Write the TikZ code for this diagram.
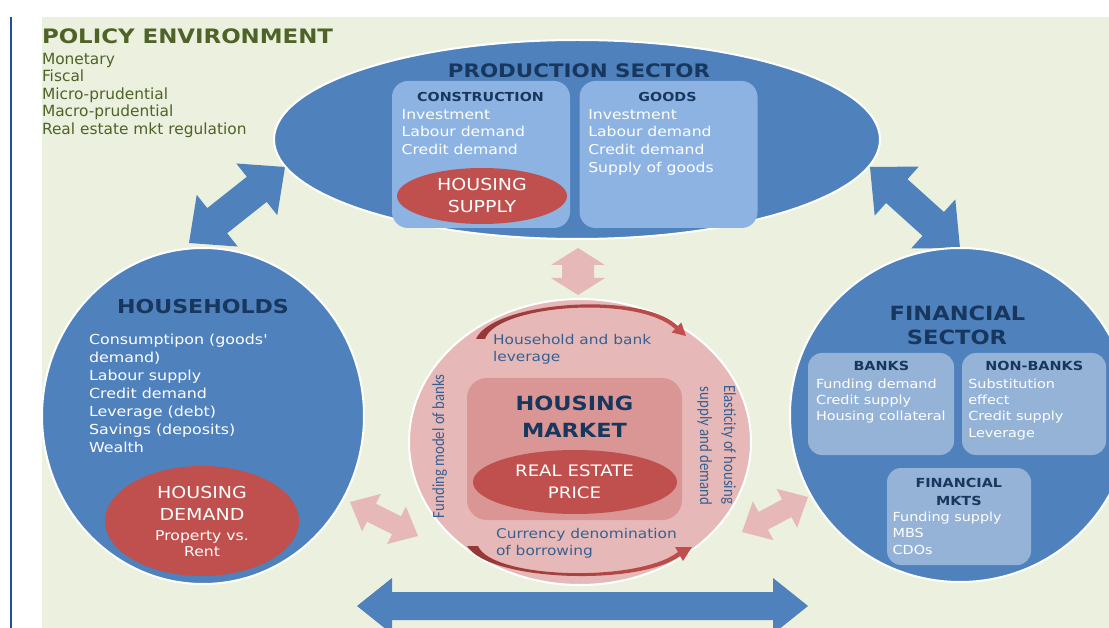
\documentclass[tikz,border=0pt]{standalone}
\usepackage{fontspec}
\setmainfont{DejaVu Sans}
\newfontfamily\bodyf{DejaVu Sans}[FakeStretch=1.15]
\newfontfamily\rotf{Carlito}[FakeStretch=0.87]
\usetikzlibrary{calc,shapes.geometric}
\definecolor{bggreen}{HTML}{EBF1DE}
\definecolor{olive}{HTML}{4F6228}
\definecolor{mblue}{HTML}{4F81BD}
\definecolor{pboxc}{HTML}{8DB3E2}
\definecolor{fboxc}{HTML}{95B3D7}
\definecolor{navy}{HTML}{17375E}
\definecolor{hred}{HTML}{C0504D}
\definecolor{pinkc}{HTML}{E6B9B8}
\definecolor{pinkd}{HTML}{D99694}
\definecolor{arcdark}{HTML}{953735}
\definecolor{tblue}{HTML}{376092}
\definecolor{lineblue}{HTML}{1F4E9E}
% double block arrow between two named coordinates
\newcommand\dblarrow[6]{%
  \coordinate (da1) at ($(#1)!#3!(#2)$);
  \coordinate (da2) at ($(#2)!#3!(#1)$);
  \fill[#6] (#1) -- ($(da1)!#4!90:(#2)$) -- ($(da1)!#5!90:(#2)$)
    -- ($(da2)!#5!-90:(#1)$) -- ($(da2)!#4!-90:(#1)$) -- (#2)
    -- ($(da2)!#4!90:(#1)$) -- ($(da2)!#5!90:(#1)$)
    -- ($(da1)!#5!-90:(#2)$) -- ($(da1)!#4!-90:(#2)$) -- cycle;}
\tikzset{
  bigell/.style={ellipse, draw=white, line width=2pt},
  redell/.style={ellipse, fill=hred},
  pbox/.style={rectangle, rounded corners=16pt, fill=pboxc, anchor=north west},
  fbox/.style={rectangle, rounded corners=14pt, fill=fboxc, anchor=north west},
  bigtitle/.style={anchor=base, text=navy, font=\bodyf\bfseries\fontsize{#1}{#1}\selectfont},
  boxhead/.style={anchor=base, text=navy, font=\bodyf\bfseries\fontsize{#1}{#1}\selectfont},
  wlist/.style={anchor=base west, text=white, font=\bodyf\fontsize{#1}{#1}\selectfont},
  wcenter/.style={anchor=base, text=white, font=\bodyf\fontsize{#1}{#1}\selectfont},
  blist/.style={anchor=base west, text=tblue, font=\bodyf\fontsize{13.4}{14}\selectfont},
  rottext/.style={anchor=base west, text=tblue, font=\rotf\fontsize{17}{17}\selectfont},
}
\begin{document}
\begin{tikzpicture}[x=1pt,y=-1pt, every node/.style={inner sep=0pt,outer sep=0pt}]
\useasboundingbox (0,0) rectangle (1109,628);
\clip (0,0) rectangle (1109,628);
\fill[white] (0,0) rectangle (1109,628);
\fill[bggreen] (42,17) rectangle (1109,628);
\draw[lineblue, line width=2.5pt] (11,17) -- (11,628);

% policy environment
\node[anchor=base west, text=olive, font=\bodyf\bfseries\fontsize{19.9}{22}\selectfont] (poltitle) at (42,44) {POLICY ENVIRONMENT};
\foreach \t [count=\i] in {Monetary, Fiscal, Micro-prudential, Macro-prudential, Real estate mkt regulation}
  \node[anchor=base west, text=olive, font=\fontsize{15.4}{18}\selectfont] (pol\i) at (42,{64.3+17.5*(\i-1)}) {\t};

% connector arrows (behind the shapes)
\coordinate (bl1) at (189,243); \coordinate (bl2) at (285,167);
\dblarrow{bl1}{bl2}{36pt}{33pt}{16pt}{mblue}
\coordinate (br1) at (870,167); \coordinate (br2) at (960,248);
\dblarrow{br1}{br2}{36pt}{33pt}{16pt}{mblue}
\coordinate (bb1) at (357,606); \coordinate (bb2) at (808,606);
\dblarrow{bb1}{bb2}{35pt}{28pt}{14pt}{mblue}
\coordinate (pv1) at (578,248); \coordinate (pv2) at (578,295);
\dblarrow{pv1}{pv2}{17pt}{27pt}{16pt}{pinkc}
\coordinate (pl1) at (350,502); \coordinate (pl2) at (418,536);
\dblarrow{pl1}{pl2}{24pt}{21pt}{10pt}{pinkc}
\coordinate (pr1) at (742,532); \coordinate (pr2) at (808,497);
\dblarrow{pr1}{pr2}{24pt}{22pt}{10pt}{pinkc}

% production sector
\node[bigell, fill=mblue, minimum width=606, minimum height=199] (prod) at (577,139.5) {};
\node[bigtitle=18.6] (prodt) at (579,77.3) {PRODUCTION SECTOR};
\node[pbox, minimum width=178, minimum height=147] (cons) at (392,81) {};
\node[pbox, minimum width=178, minimum height=147] (goods) at (579.5,81) {};
\node[boxhead=12.4] (consh) at (480.5,101.7) {CONSTRUCTION};
\node[boxhead=12.4] (goodsh) at (667.5,101.7) {GOODS};
\foreach \t [count=\i] in {Investment, Labour demand, Credit demand}
  \node[wlist=13.6] (con\i) at (401.7,{119.3+17.5*(\i-1)}) {\t};
\foreach \t [count=\i] in {Investment, Labour demand, Credit demand, Supply of goods}
  \node[wlist=13.6] (goo\i) at (588.3,{119.3+17.6*(\i-1)}) {\t};
\node[redell, minimum width=170, minimum height=56] (hsup) at (482,196) {};
\node[wcenter=16.5] (hsup1) at (482,190.7) {HOUSING};
\node[wcenter=16.5] (hsup2) at (482,212.7) {SUPPLY};

% households
\node[bigell, fill=mblue, minimum width=322, minimum height=336] (hh) at (203,416) {};
\node[bigtitle=19.2] (hht) at (203,313.7) {HOUSEHOLDS};
\foreach \t [count=\i] in {Consumptipon (goods', demand), Labour supply, Credit demand, Leverage (debt), Savings (deposits), Wealth}
  \node[wlist=13.8] (hhl\i) at (89,{344.3+18*(\i-1)}) {\t};
\node[redell, minimum width=194, minimum height=110] (hdem) at (202,521) {};
\node[wcenter=16.5] (hdem1) at (202,498.7) {HOUSING};
\node[wcenter=16.5] (hdem2) at (202,520.7) {DEMAND};
\node[wcenter=13.6] (hdem3) at (202,540) {Property vs.};
\node[wcenter=13.6] (hdem4) at (202,556.7) {Rent};

% housing market
\node[bigell, fill=pinkc, minimum width=342, minimum height=286] (hm) at (580,442) {};
\node[rectangle, rounded corners=20pt, fill=pinkd, minimum width=215, minimum height=142] (hmin) at (574.5,449) {};
\node[bigtitle=19.5] (hmt1) at (574.5,410.7) {HOUSING};
\node[bigtitle=19.5] (hmt2) at (574.5,437.3) {MARKET};
\node[redell, minimum width=204, minimum height=64] (rep) at (575,482) {};
\node[wcenter=15.8] (rep1) at (574.5,476.7) {REAL ESTATE};
\node[wcenter=15.8] (rep2) at (574.5,498.3) {PRICE};
\node[blist] (lev1) at (493,344.3) {Household and bank};
\node[blist] (lev2) at (493,361.7) {leverage};
\node[blist] (cur1) at (496,538.3) {Currency denomination};
\node[blist] (cur2) at (496,555.7) {of borrowing};
\node[rottext, rotate=90] (fund) at (444,518) {Funding model of banks};
\node[rottext, rotate=-90] (ela1) at (724,385) {Elasticity of housing};
\node[rottext, rotate=-90] (ela2) at (700,387) {supply and demand};
% curved arrows
\shade[left color=arcdark, right color=hred]
  (476,339) .. controls (492,302) and (640,290) .. (678,326)
  -- (681.3,322.5) -- (686,336) -- (671.7,332.5) -- (675,329)
  .. controls (638,294) and (496,305) .. (485,339) -- cycle;
\shade[left color=arcdark, right color=hred]
  (467,546) .. controls (490,582) and (640,586) .. (680,556)
  -- (683,561) -- (692,547) -- (675,547) -- (678,552)
  .. controls (638,583) and (492,579) .. (478,546) -- cycle;

% financial sector
\node[bigell, fill=mblue, minimum width=340, minimum height=334] (fin) at (960,415) {};
\node[bigtitle=19.6] (fint1) at (957.5,320.7) {FINANCIAL};
\node[bigtitle=19.6] (fint2) at (957,345) {SECTOR};
\node[fbox, minimum width=146, minimum height=102] (banks) at (808,353) {};
\node[fbox, minimum width=144, minimum height=102] (nonb) at (962,353) {};
\node[fbox, minimum width=144, minimum height=97] (mkts) at (887,468) {};
\node[boxhead=12.5] (banksh) at (881.3,371) {BANKS};
\node[boxhead=12.5] (nonbh) at (1034.2,371) {NON-BANKS};
\node[boxhead=12.5] (mktsh1) at (958.8,487.7) {FINANCIAL};
\node[boxhead=12.5] (mktsh2) at (958.8,505) {MKTS};
\foreach \t [count=\i] in {Funding demand, Credit supply, Housing collateral}
  \node[wlist=12.5] (bk\i) at (816,{388.3+16.3*(\i-1)}) {\t};
\foreach \t [count=\i] in {Substitution, effect, Credit supply, Leverage}
  \node[wlist=12.5] (nb\i) at (968.3,{388.3+16.3*(\i-1)}) {\t};
\foreach \t [count=\i] in {Funding supply, MBS, CDOs}
  \node[wlist=12.5] (mk\i) at (892.7,{521.7+16.2*(\i-1)}) {\t};
\end{tikzpicture}
\end{document}
